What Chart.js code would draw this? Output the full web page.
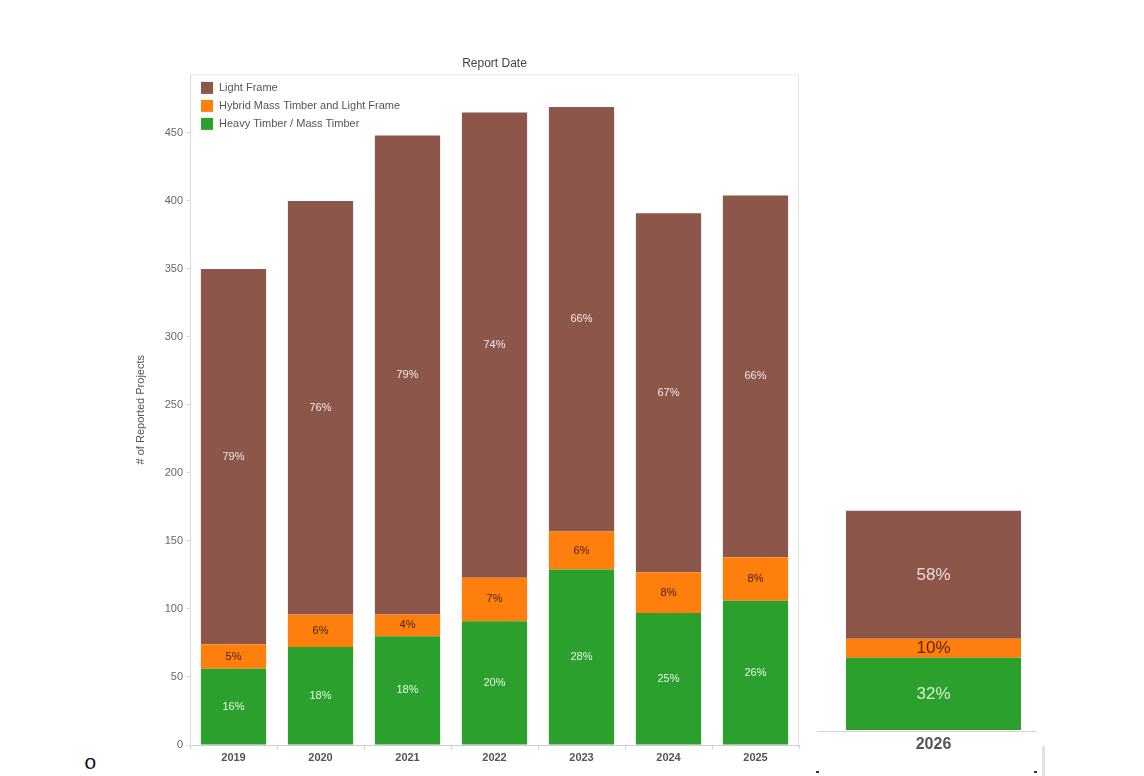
<!DOCTYPE html>
<html>
<head>
<meta charset="utf-8">
<script src="https://cdn.jsdelivr.net/npm/chart.js@4"></script>
<style>
  body { margin: 0; background: #fff; width: 1144px; height: 776px; position: relative; overflow: hidden; font-family: "Liberation Sans", Arial, sans-serif; }
  .box { position: absolute; }
  #main { left: 120px; top: 50px; width: 700px; height: 726px; }
  #side { left: 826px; top: 485px; width: 215px; height: 291px; }
  .line { position: absolute; background: #d4d4d4; }
  .mark { position: absolute; background: #333; width: 3px; height: 2px; }
  #bullet { position: absolute; left: 84px; top: 752px; font-family: "Liberation Mono", monospace; font-size: 21px; line-height: 24px; color: #111; }
</style>
</head>
<body>
<div class="box" id="main"><canvas id="chartMain"></canvas></div>
<div class="box" id="side"><canvas id="chartSide"></canvas></div>
<div class="line" style="left:817px; top:731px; width:220px; height:1px;"></div>
<div class="line" style="left:1042px; top:746px; width:3px; height:30px; background:#e2e2e2;"></div>
<div class="mark" style="left:816px; top:771px;"></div>
<div class="mark" style="left:1034px; top:771px;"></div>
<div id="bullet">o</div>

<script>
const years = ["2019", "2020", "2021", "2022", "2023", "2024", "2025"]
const heavyTimber = [56, 72, 80, 91, 129, 97, 106]
const hybrid = [18, 24, 16, 32, 28, 30, 32]
const lightFrame = [276, 304, 352, 342, 312, 264, 266]
const heavyPct = ["16%", "18%", "18%", "20%", "28%", "25%", "26%"]
const hybridPct = ["5%", "6%", "4%", "7%", "6%", "8%", "8%"]
const lightPct = ["79%", "76%", "79%", "74%", "66%", "67%", "66%"]
const yTicks = [0, 50, 100, 150, 200, 250, 300, 350, 400, 450]

const year2026 = ["2026"]
const heavy2026 = [53]
const hybrid2026 = [14]
const light2026 = [94]
const heavy2026Pct = ["32%"]
const hybrid2026Pct = ["10%"]
const light2026Pct = ["58%"]

const brown = "#8c564b"
const orange = "#ff7f0e"
const green = "#2ca02c"
const fontFam = "'Liberation Sans', Arial, sans-serif"

Chart.defaults.font.family = fontFam
Chart.defaults.animation = false

const segLabels = {
    id: "segLabels",
    afterDatasetsDraw(chart, args, opts) {
        const ctx = chart.ctx
        ctx.save()
        ctx.textAlign = "center"
        ctx.textBaseline = "middle"
        ctx.font = opts.size + "px " + fontFam
        chart.data.datasets.forEach((ds, di) => {
            const meta = chart.getDatasetMeta(di)
            meta.data.forEach((bar, i) => {
                ctx.fillStyle = ds.pctColor
                ctx.fillText(ds.pct[i], bar.x, (bar.y + bar.base) / 2)
            })
        })
        ctx.restore()
    }
}

const frameAndLegend = {
    id: "frameAndLegend",
    afterDraw(chart) {
        const ctx = chart.ctx
        const a = chart.chartArea
        ctx.save()
        ctx.strokeStyle = "#e3e3e3"
        ctx.lineWidth = 1
        ctx.beginPath()
        ctx.moveTo(a.left, a.top + 0.5)
        ctx.lineTo(a.right - 0.5, a.top + 0.5)
        ctx.lineTo(a.right - 0.5, a.bottom)
        ctx.stroke()
        const order = chart.data.datasets.slice().reverse()
        ctx.font = "11px " + fontFam
        ctx.textBaseline = "middle"
        ctx.textAlign = "left"
        order.forEach((ds, i) => {
            const cy = a.top + 13.5 + i * 18
            ctx.fillStyle = ds.backgroundColor
            ctx.fillRect(a.left + 11, cy - 6, 12, 12)
            ctx.fillStyle = "#555"
            ctx.fillText(ds.label, a.left + 29, cy + 0.5)
        })
        ctx.restore()
    }
}

new Chart(document.getElementById("chartMain"), {
    type: "bar",
    data: {
        labels: years,
        datasets: [
            { label: "Heavy Timber / Mass Timber", data: heavyTimber, backgroundColor: green, pct: heavyPct, pctColor: "#eaf6e8" },
            { label: "Hybrid Mass Timber and Light Frame", data: hybrid, backgroundColor: orange, pct: hybridPct, pctColor: "#4a2000" },
            { label: "Light Frame", data: lightFrame, backgroundColor: brown, pct: lightPct, pctColor: "#f4e8e4" }
        ]
    },
    options: {
        responsive: true,
        maintainAspectRatio: false,
        layout: { padding: { left: 0, right: 21, top: 0, bottom: 0 } },
        datasets: { bar: { barPercentage: 0.75, categoryPercentage: 1 } },
        plugins: {
            legend: { display: false },
            tooltip: { enabled: false },
            title: {
                display: true,
                text: "Report Date",
                fullSize: false,
                color: "#444",
                font: { size: 12, weight: "normal" },
                padding: { top: 6, bottom: 4 }
            },
            segLabels: { size: 11 }
        },
        scales: {
            x: {
                stacked: true,
                afterFit: (s) => { s.height = 31 },
                grid: { drawOnChartArea: false, tickLength: 4, color: "#cfcfcf" },
                border: { color: "#cfcfcf" },
                ticks: { color: "#555", font: { size: 11, weight: "bold" }, padding: 2 }
            },
            y: {
                stacked: true,
                min: 0,
                max: 493,
                afterFit: (s) => { s.width = 70 },
                afterBuildTicks: (s) => { s.ticks = yTicks.map(v => ({ value: v })) },
                title: {
                    display: true,
                    text: "# of Reported Projects",
                    color: "#555",
                    font: { size: 11 },
                    padding: { top: 14, bottom: 0 }
                },
                grid: { drawOnChartArea: false, tickLength: 4, color: "#dcdcdc" },
                border: { color: "#dcdcdc" },
                ticks: { color: "#666", font: { size: 11 }, padding: 3 }
            }
        }
    },
    plugins: [segLabels, frameAndLegend]
})

new Chart(document.getElementById("chartSide"), {
    type: "bar",
    data: {
        labels: year2026,
        datasets: [
            { label: "Heavy Timber / Mass Timber", data: heavy2026, backgroundColor: green, pct: heavy2026Pct, pctColor: "#d9f0d6" },
            { label: "Hybrid Mass Timber and Light Frame", data: hybrid2026, backgroundColor: orange, pct: hybrid2026Pct, pctColor: "#5a2800" },
            { label: "Light Frame", data: light2026, backgroundColor: brown, pct: light2026Pct, pctColor: "#eedcd6" }
        ]
    },
    options: {
        responsive: true,
        maintainAspectRatio: false,
        layout: { padding: 0 },
        datasets: { bar: { barPercentage: 0.814, categoryPercentage: 1 } },
        plugins: {
            legend: { display: false },
            tooltip: { enabled: false },
            segLabels: { size: 17 }
        },
        scales: {
            x: {
                stacked: true,
                afterFit: (s) => { s.height = 46 },
                grid: { display: false, tickLength: 0 },
                border: { display: false },
                ticks: { color: "#555", font: { size: 16, weight: "bold" }, padding: 5 }
            },
            y: {
                stacked: true,
                display: false,
                min: 0,
                max: 180
            }
        }
    },
    plugins: [segLabels]
})
</script>
</body>
</html>
